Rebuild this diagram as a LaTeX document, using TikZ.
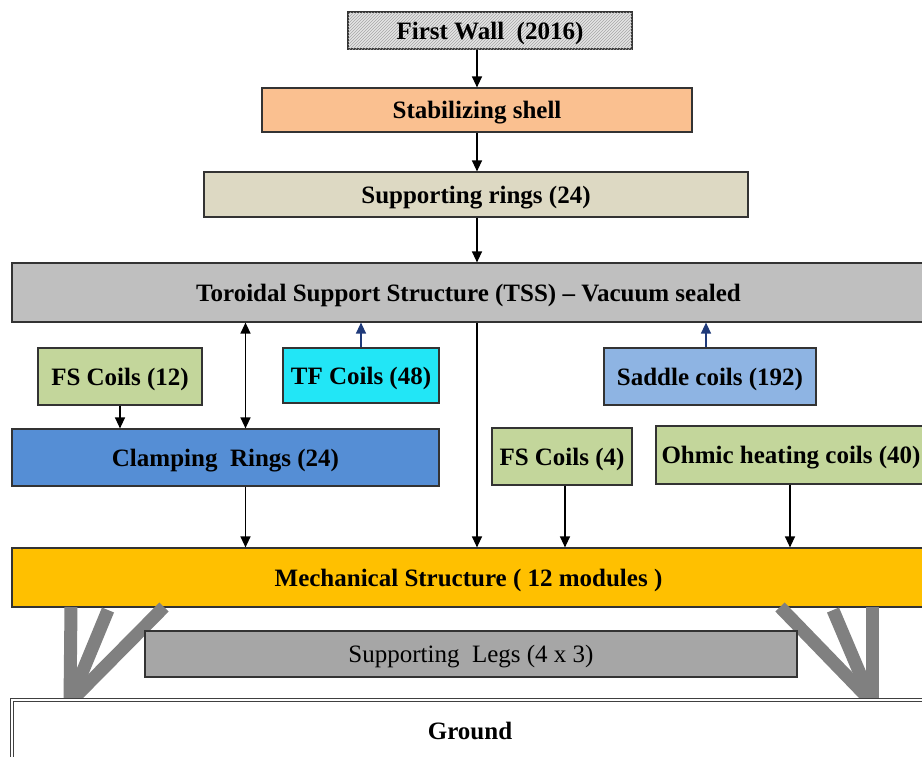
\documentclass[tikz,border=0pt]{standalone}
\usepackage{fontspec}
\setmainfont{Liberation Serif}
\usetikzlibrary{arrows.meta,patterns}

\definecolor{peach}{HTML}{FAC090}
\definecolor{beige}{HTML}{DDD9C3}
\definecolor{tssgray}{HTML}{BFBFBF}
\definecolor{coilgreen}{HTML}{C3D69B}
\definecolor{tfcyan}{HTML}{22E6F6}
\definecolor{saddleblue}{HTML}{8EB4E3}
\definecolor{clampblue}{HTML}{558ED5}
\definecolor{mechyellow}{HTML}{FFC000}
\definecolor{legsgray}{HTML}{A6A6A6}
\definecolor{leggray}{HTML}{808080}
\definecolor{navyarrow}{HTML}{1F3A7A}

\tikzset{
  box/.style={draw=black!80, line width=1.2pt, inner sep=0pt, align=center, text depth=0pt,
    font=\fontsize{25}{30}\selectfont\bfseries},
  arr/.style={line width=1.3pt, -{Triangle[length=11pt,width=10pt]}},
  uparr/.style={arr, draw=navyarrow, color=navyarrow},
  leg/.style={line width=13pt, leggray}
}

\begin{document}
\begin{tikzpicture}[x=1pt,y=-1pt]
	\clip (0,0) rectangle (922,756);
	% stack above the TSS
	\node[box, fill=gray!20, postaction={pattern=north east lines, pattern color=gray!70},
	  minimum width=284, minimum height=37] (fw) at (490,30.5) {First Wall~~(2016)};
	\node[box, fill=peach, minimum width=430, minimum height=44] (stab) at (477,110) {Stabilizing shell};
	\node[box, fill=beige, minimum width=544, minimum height=45] (rings) at (476,194.5) {Supporting rings (24)};
	\node[box, fill=tssgray, minimum width=913, minimum height=59] (tss) at (468.5,292.5) {Toroidal Support Structure (TSS) -- Vacuum sealed};
	% coils and rings
	\node[box, fill=coilgreen, minimum width=164, minimum height=57] (fsA) at (120,376.5) {FS Coils (12)};
	\node[box, fill=tfcyan, minimum width=156, minimum height=55] (tf) at (361,375.5) {TF Coils (48)};
	\node[box, fill=saddleblue, minimum width=212, minimum height=57] (saddle) at (710,376.5) {Saddle coils (192)};
	\node[box, fill=clampblue, minimum width=427, minimum height=57] (clamp) at (225.5,457.5) {Clamping~~Rings (24)};
	\node[box, fill=coilgreen, minimum width=140, minimum height=57] (fsB) at (562,456.5) {FS Coils (4)};
	\node[box, fill=coilgreen, minimum width=270, minimum height=58] (ohmic) at (791,455) {Ohmic heating coils (40)};
	% base
	\node[box, fill=mechyellow, minimum width=913, minimum height=59] (mech) at (468.5,577.5) {Mechanical Structure ( 12 modules )};
	\coordinate (legL) at (70,702);
	\coordinate (legR) at (872,702);
	\draw[leg] (legL) -- (71,607);
	\draw[leg] (legL) -- (108,610);
	\draw[leg] (legL) -- (164,607);
	\draw[leg] (legR) -- (872,607);
	\draw[leg] (legR) -- (833,610);
	\draw[leg] (legR) -- (780,607);
	\node[box, fill=legsgray, font=\fontsize{25}{30}\selectfont, minimum width=652, minimum height=46] (legs) at (471,654) {Supporting~~Legs (4 x 3)};
	\node[box, fill=white, draw=black!75, double, double distance=2pt, line width=0.9pt,
	  minimum width=916, minimum height=62] (ground) at (470,731) {Ground};
	% connectors
	\draw[arr] (fw.south -| stab.north) -- (stab.north);
	\draw[arr] (stab.south) -- (stab.south |- rings.north);
	\draw[arr] (rings.south -| stab.south) -- (tss.north -| stab.south);
	\draw[line width=1.3pt, {Triangle[length=11pt,width=10pt]}-{Triangle[length=11pt,width=10pt]}]
	  ([xshift=20pt]clamp.north |- tss.south) -- ([xshift=20pt]clamp.north);
	\draw[uparr] (tf.north) -- (tf.north |- tss.south);
	\draw[uparr] ([xshift=-4pt]saddle.north) -- ([xshift=-4pt]saddle.north |- tss.south);
	\draw[arr] (fsA.south) -- (fsA.south |- clamp.north);
	\draw[arr] ([xshift=20pt]clamp.south) -- ([xshift=20pt]clamp.south |- mech.north);
	\draw[arr] (tss.south -| stab.south) -- (mech.north -| stab.south);
	\draw[arr] ([xshift=3pt]fsB.south) -- ([xshift=3pt]fsB.south |- mech.north);
	\draw[arr] ([xshift=-1pt]ohmic.south) -- ([xshift=-1pt]ohmic.south |- mech.north);
\end{tikzpicture}
\end{document}
